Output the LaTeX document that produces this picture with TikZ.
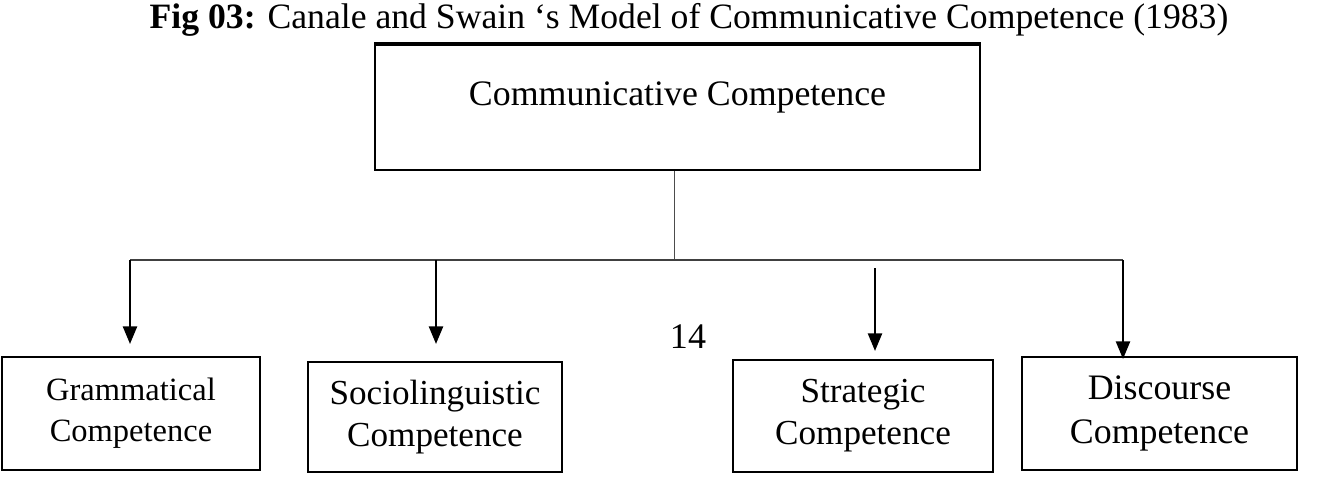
\documentclass[tikz,border=0pt]{standalone}
\usepackage{fontspec}
\setmainfont{Liberation Serif}
\usetikzlibrary{arrows.meta,calc}
\tikzset{
  box/.style={draw,line width=1.2pt,align=center,inner sep=0pt},
  bar/.style={line width=0.8pt,black!75},
  arr/.style={line width=1.2pt,-{Triangle[length=10pt,width=8pt]}},
}
\begin{document}
\begin{tikzpicture}[x=0.02cm,y=-0.02cm]
  \useasboundingbox (0,0) rectangle (1323,494);
  \node[font=\fontsize{20.3}{24}\selectfont] (title) at (689,20)
    {\textbf{Fig 03:} Canale and Swain ‘s Model of Communicative Competence (1983)};
  % top box
  \node[box,minimum width=12.1cm,minimum height=2.5cm,
        label={[font=\fontsize{20.4}{24}\selectfont,yshift=0.2cm]center:Communicative Competence}]
    (comm) at (677.5,107.5) {};
  \draw[line width=2.2pt] (comm.north west) -- (comm.north east);
  % the four parts
  \node[box,minimum width=5.16cm,minimum height=2.26cm,font=\fontsize{18.5}{23.3}\selectfont]
    (gram) at (131,413.5) {Grammatical\\Competence};
  \node[box,minimum width=5.08cm,minimum height=2.2cm,font=\fontsize{20}{23.8}\selectfont]
    (socio) at (435,417) {Sociolinguistic\\Competence};
  \node[box,minimum width=5.2cm,minimum height=2.24cm,font=\fontsize{20}{23.8}\selectfont]
    (strat) at (863,416) {Strategic\\Competence};
  \node[box,minimum width=5.5cm,minimum height=2.26cm,font=\fontsize{20.4}{25}\selectfont]
    (disc) at (1159.5,413.5) {Discourse\\Competence};
  \node[font=\fontsize{20.5}{24}\selectfont] (pageno) at (688,337) {14};
  % connectors
  \coordinate (hub) at (674,260);
  \coordinate (gL) at (130,260);
  \coordinate (gR) at (1123,260);
  \coordinate (s3) at (875,268);
  \draw[black!70] (comm.south -| hub) -- (hub);
  \draw[bar] (gL) -- (gR);
  \draw[arr,shorten >=0.24cm] (gL) -- (gL |- gram.north);
  \draw[arr,shorten >=0.34cm] (436,260) -- (436,260 |- socio.north);
  \draw[arr,shorten >=0.16cm] (s3) -- (s3 |- strat.north);
  \draw[arr,shorten >=-0.06cm] (gR) -- (gR |- disc.north);
\end{tikzpicture}
\end{document}
